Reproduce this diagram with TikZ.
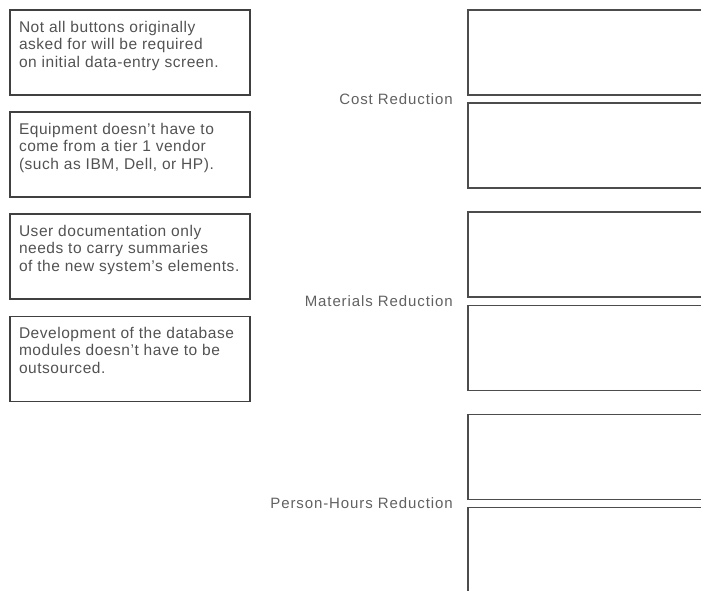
\documentclass[tikz,border=0pt]{standalone}
\usepackage{fontspec}
\setmainfont{Liberation Sans}
\newfontfamily\notefont{Liberation Sans}[LetterSpace=3.5]
\newfontfamily\labelfont{Liberation Sans}[LetterSpace=6]
\usetikzlibrary{calc}
\usetikzlibrary{positioning}

\begin{document}
\begin{tikzpicture}
  \tikzset{notebox/.style={rectangle, draw=black!75, line width=1.6pt, text=black!68, text width=222pt, inner xsep=9pt, inner ysep=5pt, text height=17pt, text depth=58pt, align=flush left, font=\notefont\fontsize{15.5}{17.5}\selectfont}};
  \tikzset{cellbox/.style={rectangle, draw=black!70, line width=1.6pt, minimum width=260pt, minimum height=85pt, inner sep=0pt}};
  \tikzset{celllabel/.style={anchor=east, text=black!62, font=\labelfont\fontsize{15}{17}\selectfont}};
  \useasboundingbox (0,0) rectangle (701pt,-590pt);
  \clip (0,0) rectangle (701pt,-590pt);

  \node[notebox, anchor=north west] (n1) at (9.2pt,-9.2pt) {Not all buttons originally\\asked for will be required\\on initial data-entry screen.};
  \node[notebox, below=15.5pt of n1] (n2) {Equipment doesn’t have to\\come from a tier 1 vendor\\(such as IBM, Dell, or HP).};
  \node[notebox, below=15.5pt of n2] (n3) {User documentation only\\needs to carry summaries\\of the new system’s elements.};
  \node[notebox, below=15.5pt of n3] (n4) {Development of the database\\modules doesn’t have to be\\outsourced.};

  \node[cellbox, anchor=north west] (c1) at (467.2pt,-9.2pt) {};
  \node[cellbox, below=6.5pt of c1] (c2) {};
  \node[cellbox, below=22.5pt of c2] (m1) {};
  \node[cellbox, below=6.5pt of m1] (m2) {};
  \node[cellbox, below=22.5pt of m2] (p1) {};
  \node[cellbox, below=6.5pt of p1] (p2) {};

  \node[celllabel] (cost) at ($(c1.south west)!.5!(c2.north west)+(-11pt,0)$) {Cost Reduction};
  \node[celllabel] (mat) at ($(m1.south west)!.5!(m2.north west)+(-11pt,0)$) {Materials Reduction};
  \node[celllabel] (pers) at ($(p1.south west)!.5!(p2.north west)+(-11pt,0)$) {Person-Hours Reduction};
\end{tikzpicture}
\end{document}
